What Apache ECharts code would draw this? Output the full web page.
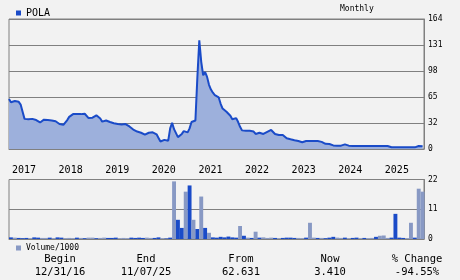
<!DOCTYPE html>
<html>
<head>
<meta charset="utf-8">
<script src="https://cdn.jsdelivr.net/npm/echarts@6/dist/echarts.min.js"></script>
<style>
html,body{margin:0;padding:0;background:#f2f2f2;}
#c{width:460px;height:280px;}
</style>
</head>
<body>
<div id="c"></div>
<script>
// Semi-monthly closing prices, Jan 2017 .. Nov 2025
var priceStartYear = 2017;
var pricesPerYear = 24;
var priceValues = [
63,59,59.5,60.5,60.5,59.5,56,47,38,37.5,37.5,38,38,37,36.5,35,33.5,35,37,37.5,
36.5,36,36,36,35,33.5,31.5,29.5,30.5,32.5,36.5,40.5,42.5,44,44.5,44,44,44,44,44.5,
42,39,37.5,39.5,41,42.5,40,38.5,34.5,35.5,36,35,34,33.5,32.5,31.5,31.5,31,31,31,
31.5,30,28.5,26.5,24.5,23,22,21,20.5,19.5,18,18.5,20.5,21.5,21,20,18.5,14,9.5,11,
11.5,11,10.5,26,33,25,20,15,14,19,22.5,22.5,21,26,34,34,36,90,137,110,
93,97,91,81,75,71,68,67,65,57,51,49,47,45,42,37.5,35,39,34,28,
23.5,22,23,23,23,23,22,19,19,20.5,20.5,19,20.5,21.5,23,24,22.5,19,17.7,17.7,
17.7,17.7,16,13.5,12.5,12.2,11.5,11,10.5,10,9.5,8.5,9.5,10,10,10,10,10,10,10,
10,9,7.5,6.5,6.3,6.3,6.3,4.5,4.2,4.2,4.2,4.2,4.2,5.8,5.5,4.2,3.8,3.8,3.8,3.8,
3.8,3.8,3.8,3.8,3.8,3.8,3.8,3.8,3.8,3.8,3.8,3.8,3.8,3.8,3.8,3.8,3.8,2.3,2.1,2.1,
2.1,2.1,2.1,2.1,2.1,2.1,2.1,2.1,2.1,2.1,3.5,3.8,3.8,3.4
];
// Monthly volume / 1000, Jan 2017 .. Nov 2025
var volumeValues = [
0.6,0.5,0.4,0.3,0.4,0.3,0.6,0.5,0.4,0.4,0.5,0.3,
0.6,0.5,0.3,0.4,0.3,0.5,0.4,0.3,0.5,0.5,0.3,0.4,
0.5,0.4,0.4,0.5,0.3,0.4,0.3,0.5,0.4,0.5,0.4,0.5,
0.4,0.4,0.6,0.3,0.2,0.5,21.3,7.1,4.1,17.5,19.8,7.1,
3.7,15.7,4.1,2.3,0.6,0.5,0.8,0.6,0.9,0.6,0.5,4.8,
1.2,0.5,0.4,2.7,0.5,0.6,0.4,0.5,0.4,0.3,0.4,0.5,
0.5,0.4,0.4,0.3,0.5,6.0,0.5,0.4,0.4,0.3,0.5,0.8,
0.5,0.4,0.5,0.3,0.4,0.5,0.3,0.4,0.3,0.4,0.8,1.2,
1.3,0.4,0.5,9.3,0.5,0.4,0.3,6.0,0.5,18.6,17.5
];
// 1 = dark bar, 0 = light bar
var volumeDark = [
1,0,1,1,1,0,1,1,0,0,1,0,
1,1,0,0,0,1,0,1,0,0,1,0,
0,1,1,1,0,0,0,1,1,1,1,0,
0,1,1,0,1,1,0,1,1,0,1,0,
1,0,1,0,1,1,1,1,1,1,1,0,
1,0,1,0,1,0,0,0,1,0,1,1,
1,1,0,0,1,0,0,1,0,1,1,1,
0,0,1,0,1,1,0,1,0,0,1,0,
0,0,1,1,1,1,0,0,1,0,0
];
var priceTickLabels = ['0','32','65','98','131','164'];
var volumeTickLabels = ['0','11','22'];
var yearLabels = ['2017','2018','2019','2020','2021','2022','2023','2024','2025'];
var tableHeaders = ['Begin','End','From','Now','% Change'];
var tableValues = ['12/31/16','11/07/25','62.631','3.410','-94.55%'];

var DARK = '#1a4bc8', LIGHT = '#8899c4', GRID = '#808080', FILL = 'rgb(157,176,220)';
var MONO = '"DejaVu Sans Mono", monospace';

var priceData = priceValues.map(function(v,i){ return [priceStartYear + i/pricesPerYear, v]; });
var volData = volumeValues.map(function(v,i){
  return {value:[priceStartYear + (i+0.5)/12, v], itemStyle:{color: volumeDark[i] ? DARK : LIGHT}};
});

var xMin = 2017, xMax = 2025.905;
var tableX = [60,146,241,330,417];
var graphics = [];
tableHeaders.forEach(function(t,i){
  graphics.push({type:'text', x:tableX[i], y:259, style:{text:t, font:'10.5px '+MONO, fill:'#000', textAlign:'center', textVerticalAlign:'middle'}});
});
tableValues.forEach(function(t,i){
  graphics.push({type:'text', x:tableX[i], y:272.5, style:{text:t, font:'10.5px '+MONO, fill:'#000', textAlign:'center', textVerticalAlign:'middle'}});
});
graphics.push({type:'text', x:340, y:9, style:{text:'Monthly', font:'8px '+MONO, fill:'#000', textVerticalAlign:'middle'}});

var chart = echarts.init(document.getElementById('c'), null, {renderer:'canvas'});
chart.setOption({
  backgroundColor:'#f2f2f2',
  animation:false,
  legend:[
    {data:[{name:'POLA'}], left:11, top:3, itemWidth:5, itemHeight:5, itemGap:4, icon:'rect',
     textStyle:{fontFamily:'DejaVu Sans Mono', fontSize:10, color:'#000'}, selectedMode:false},
    {data:[{name:'Volume/1000', itemStyle:{color:LIGHT}}], left:11, top:239, itemWidth:5, itemHeight:5, itemGap:3, icon:'rect',
     textStyle:{fontFamily:'DejaVu Sans Mono', fontSize:8, color:'#000'}, selectedMode:false}
  ],
  grid:[
    {left:9, right:36, top:19, height:130, show:true, borderColor:GRID, borderWidth:1, backgroundColor:'transparent'},
    {left:9, right:36, top:179.5, height:59.5, show:true, borderColor:GRID, borderWidth:1, backgroundColor:'transparent'}
  ],
  xAxis:[
    {type:'value', gridIndex:0, min:xMin, max:xMax, interval:1,
     axisLine:{show:true, lineStyle:{color:GRID}}, axisTick:{show:false}, splitLine:{show:false},
     axisLabel:{show:true, margin:16, align:'left', padding:[0,0,0,3], fontFamily:'DejaVu Sans Mono', fontSize:10, color:'#000',
       showMaxLabel:false,
       formatter:function(v){ var k=Math.round(v)-2017; return yearLabels[k]!==undefined?yearLabels[k]:''; }}},
    {type:'value', gridIndex:1, min:xMin, max:xMax, interval:1,
     axisLine:{show:true, lineStyle:{color:GRID}}, axisTick:{show:false}, splitLine:{show:false}, axisLabel:{show:false}}
  ],
  yAxis:[
    {type:'value', gridIndex:0, position:'right', min:0, max:164, interval:32.8,
     axisLine:{show:true, lineStyle:{color:GRID}}, axisTick:{show:false},
     splitLine:{show:true, lineStyle:{color:GRID, width:1}},
     axisLabel:{margin:4, fontFamily:'DejaVu Sans Mono', fontSize:8, color:'#000',
       formatter:function(v){ return priceTickLabels[Math.round(v/32.8)]; }}},
    {type:'value', gridIndex:1, position:'right', min:0, max:22, interval:11,
     axisLine:{show:true, lineStyle:{color:GRID}}, axisTick:{show:false},
     splitLine:{show:true, lineStyle:{color:GRID, width:1}},
     axisLabel:{margin:4, fontFamily:'DejaVu Sans Mono', fontSize:8, color:'#000',
       formatter:function(v){ return volumeTickLabels[Math.round(v/11)]; }}}
  ],
  series:[
    {name:'POLA', type:'line', xAxisIndex:0, yAxisIndex:0, data:priceData, showSymbol:false, symbol:'none',
     z:3, itemStyle:{color:DARK}, lineStyle:{color:DARK, width:2},
     areaStyle:{color:FILL, opacity:1, origin:'start'}},
    {name:'Volume/1000', type:'bar', xAxisIndex:1, yAxisIndex:1, data:volData, barWidth:3.9, itemStyle:{color:LIGHT}}
  ],
  graphic:graphics
});
</script>
</body>
</html>
